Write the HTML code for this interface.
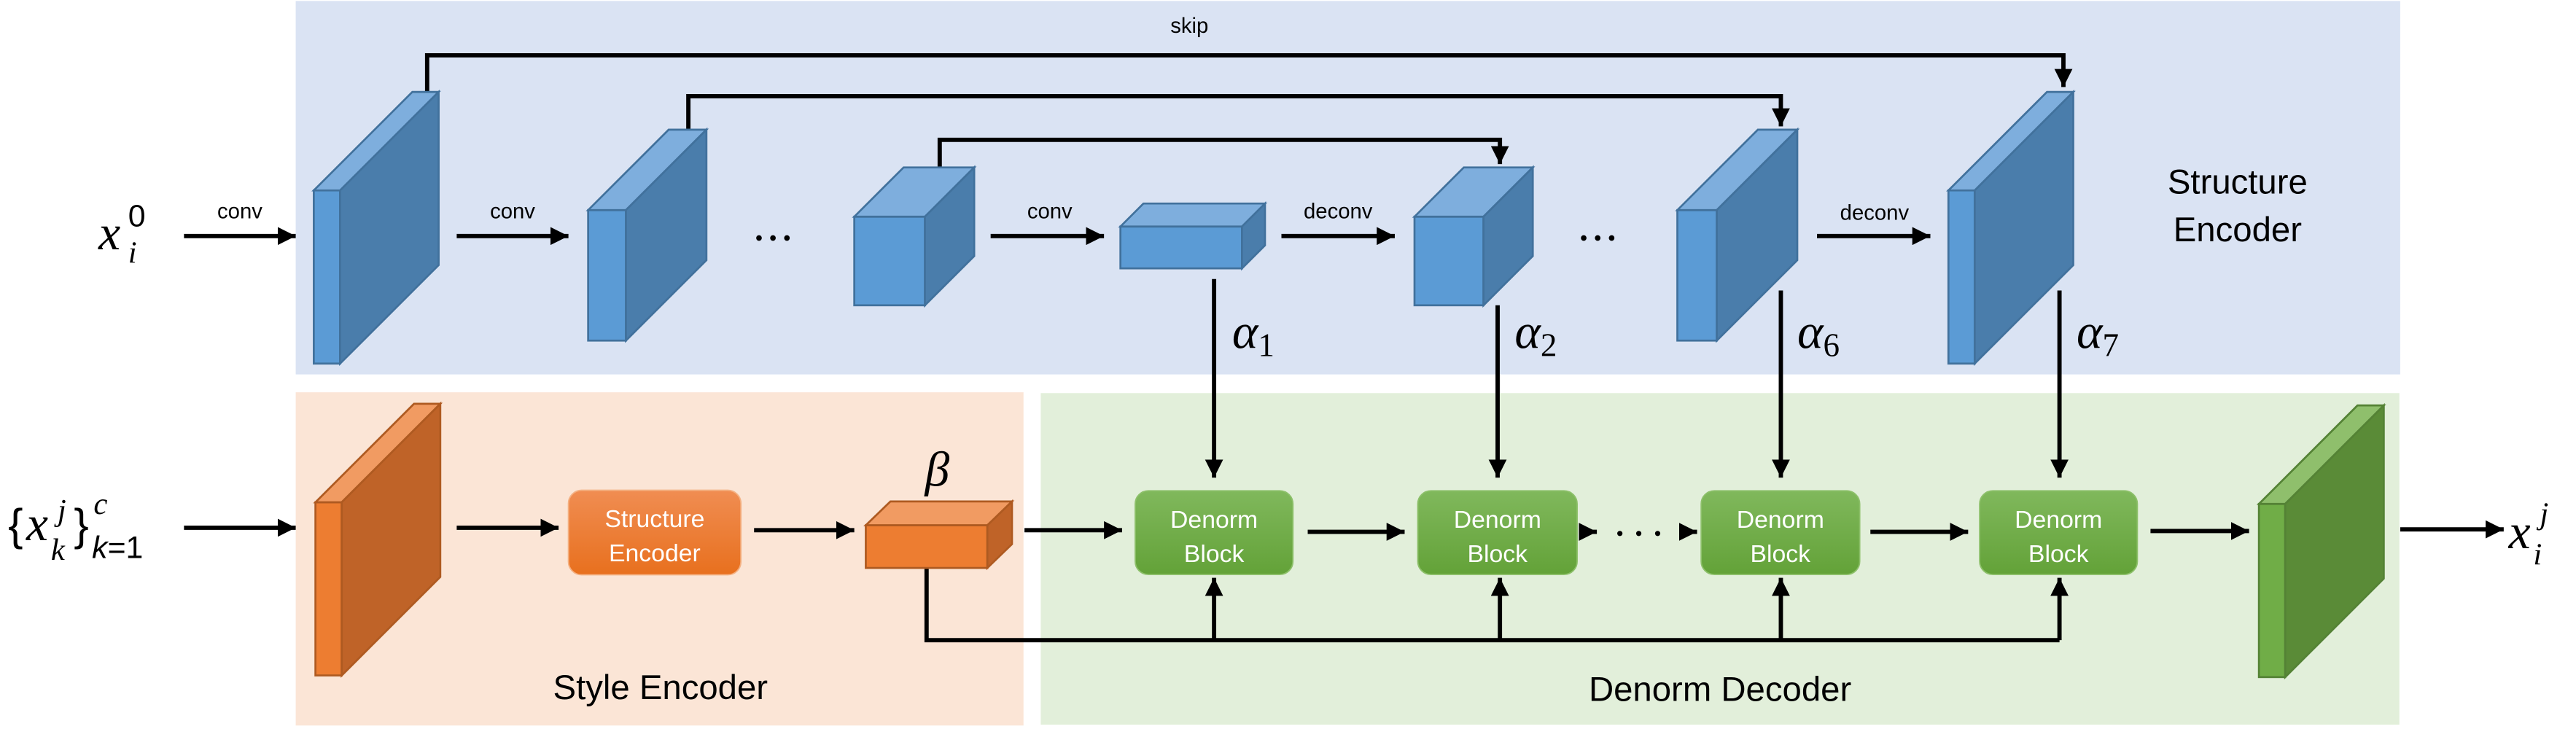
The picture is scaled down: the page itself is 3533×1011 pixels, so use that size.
<!DOCTYPE html>
<html><head><meta charset="utf-8"><style>
html,body{margin:0;padding:0;background:#fff}
svg{display:block}
text{font-family:"Liberation Sans",sans-serif}
.m{font-family:"Liberation Serif",serif;font-style:italic}
</style></head><body>
<svg width="3533" height="1011" viewBox="0 0 1568 449" preserveAspectRatio="none" xmlns="http://www.w3.org/2000/svg">
<defs>
<marker id="a" viewBox="0 0 10 10" refX="10" refY="5" markerWidth="11" markerHeight="11" markerUnits="userSpaceOnUse" orient="auto"><path d="M0,0L10,5L0,10z" fill="#000"/></marker>
<linearGradient id="og" x1="0" y1="0" x2="0" y2="1"><stop offset="0" stop-color="#f08d52"/><stop offset="1" stop-color="#e8701e"/></linearGradient>
<linearGradient id="gg" x1="0" y1="0" x2="0" y2="1"><stop offset="0" stop-color="#80b85c"/><stop offset="1" stop-color="#63a238"/></linearGradient>
</defs>
<rect x="180" y="0.6" width="1281" height="227.5" fill="#dae3f3"/>
<rect x="180" y="239" width="443" height="203" fill="#fbe5d6"/>
<rect x="633.5" y="239.5" width="827" height="202" fill="#e2efda"/>

<g stroke="#000" stroke-width="2.6" fill="none">
<path d="M260,56V33.7H1256V53" marker-end="url(#a)"/>
<path d="M419,79V58.6H1084V77" marker-end="url(#a)"/>
<path d="M572,102V85.2H913V100" marker-end="url(#a)"/>
<path d="M112,143.8H180" marker-end="url(#a)"/>
<path d="M278,143.8H346" marker-end="url(#a)"/>
<path d="M603,143.8H672" marker-end="url(#a)"/>
<path d="M780,143.8H849" marker-end="url(#a)"/>
<path d="M1106,143.8H1175" marker-end="url(#a)"/>
<path d="M739,170V291" marker-end="url(#a)"/>
<path d="M911.6,186V291" marker-end="url(#a)"/>
<path d="M1084,177V291" marker-end="url(#a)"/>
<path d="M1253.6,177V291" marker-end="url(#a)"/>
<path d="M112,321.5H180" marker-end="url(#a)"/>
<path d="M278,321.5H340" marker-end="url(#a)"/>
<path d="M459,323H520" marker-end="url(#a)"/>
<path d="M623.6,323H683" marker-end="url(#a)"/>
<path d="M796,324H855" marker-end="url(#a)"/>
<path d="M962,324H972" marker-end="url(#a)"/>
<path d="M1023,324H1033" marker-end="url(#a)"/>
<path d="M1138.5,324H1198" marker-end="url(#a)"/>
<path d="M1309,323.5H1369" marker-end="url(#a)"/>
<path d="M1461,322.5H1524" marker-end="url(#a)"/>
<path d="M564,346V390H1253.6"/>
<path d="M739,390V352" marker-end="url(#a)"/>
<path d="M913,390V352" marker-end="url(#a)"/>
<path d="M1084,390V352" marker-end="url(#a)"/>
<path d="M1253.6,390V352" marker-end="url(#a)"/>
</g>
<g fill="#000"><circle cx="462" cy="145" r="1.7"/><circle cx="470.5" cy="145" r="1.7"/><circle cx="479" cy="145" r="1.7"/>
<circle cx="964" cy="145" r="1.7"/><circle cx="972.5" cy="145" r="1.7"/><circle cx="981" cy="145" r="1.7"/>
<circle cx="986" cy="325" r="1.6"/><circle cx="997.5" cy="325" r="1.6"/><circle cx="1009" cy="325" r="1.6"/></g>

<g stroke="#41719c" stroke-width="1.2" stroke-linejoin="miter">
<g><rect x="191" y="116" width="16" height="105.5" fill="#5b9bd5"/><polygon points="191,116 207,116 267,56 251,56" fill="#7eaedd"/><polygon points="207,116 267,56 267,161.5 207,221.5" fill="#4a7dab"/></g>
<g><rect x="358" y="128" width="23" height="79.5" fill="#5b9bd5"/><polygon points="358,128 381,128 430,79 407,79" fill="#7eaedd"/><polygon points="381,128 430,79 430,158.5 381,207.5" fill="#4a7dab"/></g>
<g><rect x="520" y="132" width="43" height="54" fill="#5b9bd5"/><polygon points="520,132 563,132 593,102 550,102" fill="#7eaedd"/><polygon points="563,132 593,102 593,156 563,186" fill="#4a7dab"/></g>
<g><rect x="682" y="138" width="74" height="25.5" fill="#5b9bd5"/><polygon points="682,138 756,138 770,124 696,124" fill="#7eaedd"/><polygon points="756,138 770,124 770,149.5 756,163.5" fill="#4a7dab"/></g>
<g><rect x="861" y="132" width="42" height="54" fill="#5b9bd5"/><polygon points="861,132 903,132 933,102 891,102" fill="#7eaedd"/><polygon points="903,132 933,102 933,156 903,186" fill="#4a7dab"/></g>
<g><rect x="1021" y="128" width="24" height="79.5" fill="#5b9bd5"/><polygon points="1021,128 1045,128 1094,79 1070,79" fill="#7eaedd"/><polygon points="1045,128 1094,79 1094,158.5 1045,207.5" fill="#4a7dab"/></g>
<g><rect x="1186" y="116" width="16" height="105.5" fill="#5b9bd5"/><polygon points="1186,116 1202,116 1262,56 1246,56" fill="#7eaedd"/><polygon points="1202,116 1262,56 1262,161.5 1202,221.5" fill="#4a7dab"/></g>
</g>
<g stroke="#ae5a21" stroke-width="1.2">
<g><rect x="192" y="306" width="16" height="105.5" fill="#ed7d31"/><polygon points="192,306 208,306 268,246 252,246" fill="#f19b62"/><polygon points="208,306 268,246 268,351.5 208,411.5" fill="#bf6328"/></g>
<g><rect x="527" y="320" width="74" height="26" fill="#ed7d31"/><polygon points="527,320 601,320 616,305.5 542,305.5" fill="#f19b62"/><polygon points="601,320 616,305.5 616,331.5 601,346" fill="#bf6328"/></g>
</g>
<g stroke="#548235" stroke-width="1.2">
<rect x="1375" y="307" width="16" height="105.5" fill="#70ad47"/><polygon points="1375,307 1391,307 1451,247 1435,247" fill="#8fbf6c"/><polygon points="1391,307 1451,247 1451,352.5 1391,412.5" fill="#5a8b37"/>
</g>

<rect x="346" y="298.7" width="105" height="51.5" rx="8" fill="url(#og)" stroke="#f4b183" stroke-width="0.8"/>
<g fill="url(#gg)" stroke="#8dc06a" stroke-width="0.8">
<rect x="691" y="299" width="96" height="51" rx="8"/>
<rect x="863" y="299" width="97" height="51" rx="8"/>
<rect x="1035.5" y="299" width="96.5" height="51" rx="8"/>
<rect x="1205" y="299" width="96" height="51" rx="8"/>
</g>
<g fill="#fff" font-size="15" text-anchor="middle">
<text x="398.5" y="321">Structure</text><text x="398.5" y="342">Encoder</text>
<text x="739" y="321.5">Denorm</text><text x="739" y="342.5">Block</text>
<text x="911.5" y="321.5">Denorm</text><text x="911.5" y="342.5">Block</text>
<text x="1083.7" y="321.5">Denorm</text><text x="1083.7" y="342.5">Block</text>
<text x="1253" y="321.5">Denorm</text><text x="1253" y="342.5">Block</text>
</g>
<g fill="#000" font-size="13" text-anchor="middle">
<text x="724" y="20">skip</text>
<text x="146" y="133">conv</text>
<text x="312" y="133">conv</text>
<text x="639" y="133">conv</text>
<text x="814.5" y="133">deconv</text>
<text x="1141" y="134">deconv</text>
</g>
<g fill="#000" font-size="21" text-anchor="middle">
<text x="1362" y="118">Structure</text>
<text x="1362" y="147">Encoder</text>
<text x="402" y="426">Style Encoder</text>
<text x="1047" y="427">Denorm Decoder</text>
</g>
<g fill="#000" font-size="30">
<text class="m" x="750" y="212">α<tspan font-style="normal" font-size="20" dy="5">1</tspan></text>
<text class="m" x="922" y="212">α<tspan font-style="normal" font-size="20" dy="5">2</tspan></text>
<text class="m" x="1094" y="212">α<tspan font-style="normal" font-size="20" dy="5">6</tspan></text>
<text class="m" x="1264" y="212">α<tspan font-style="normal" font-size="20" dy="5">7</tspan></text>
<text class="m" x="563" y="296">β</text>
<text class="m" x="60" y="152">x</text>
<text class="m" x="78" y="160" font-size="19">i</text>
<text x="78" y="138" font-size="19" font-family="Liberation Serif,serif">0</text>
<text x="5" y="329" font-family="Liberation Serif,serif" font-size="27">{</text>
<text class="m" x="16" y="329">x</text>
<text class="m" x="35" y="317" font-size="19">j</text>
<text class="m" x="31" y="341" font-size="19">k</text>
<text x="45" y="329" font-family="Liberation Serif,serif" font-size="27">}</text>
<text class="m" x="57" y="313" font-size="19">c</text>
<text x="56" y="340" font-size="19" font-family="Liberation Serif,serif"><tspan font-style="italic">k</tspan>=1</text>
<text class="m" x="1527" y="334">x</text>
<text class="m" x="1546" y="319" font-size="19">j</text>
<text class="m" x="1542" y="344" font-size="19">i</text>
</g>
</svg>
</body></html>
